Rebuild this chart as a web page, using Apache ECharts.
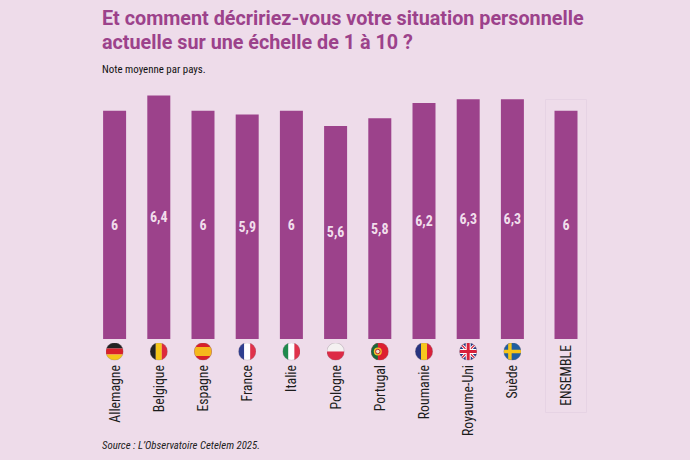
<!DOCTYPE html>
<html>
<head>
<meta charset="utf-8">
<script src="https://cdn.jsdelivr.net/npm/echarts@6/dist/echarts.min.js"></script>
<style>
html, body { margin: 0; padding: 0; background: #eedcea; }
#chart { width: 690px; height: 460px; }
/* Roboto étroit pour tout sauf le titre */
#chart text { font-stretch: 75% !important; }
#chart text[style*="Noto Sans"] { font-stretch: 100% !important; }
</style>
</head>
<body>
<div id="chart"></div>
<script>
const countries = ['Allemagne', 'Belgique', 'Espagne', 'France', 'Italie', 'Pologne', 'Portugal', 'Roumanie', 'Royaume-Uni', 'Suède']
const countryValues = [6, 6.4, 6, 5.9, 6, 5.6, 5.8, 6.2, 6.3, 6.3]
const totalName = ['ENSEMBLE']
const totalValues = [6]

const narrow = 'Roboto, sans-serif'
const wide = 'Roboto, "Noto Sans", sans-serif'
const purple = '#9c428b'

// drapeaux ronds, dessinés sur un carré de 36
function stripesV(a, b, c) {
    return `<rect width="12" height="36" fill="${a}"/><rect x="12" width="12" height="36" fill="${b}"/><rect x="24" width="12" height="36" fill="${c}"/>`
}
function stripesH(a, b, c) {
    return `<rect width="36" height="12" fill="${a}"/><rect y="12" width="36" height="12" fill="${b}"/><rect y="24" width="36" height="12" fill="${c}"/>`
}
const flagArt = {
    'Allemagne': stripesH('#222222', '#d8202a', '#f5c518'),
    'Belgique': stripesV('#222222', '#f5c518', '#dd2a3c'),
    'Espagne': '<rect width="36" height="36" fill="#d8202a"/><rect y="9" width="36" height="18" fill="#f5b81c"/>',
    'France': stripesV('#2f3f8f', '#ffffff', '#e0324a'),
    'Italie': stripesV('#1f8a4c', '#ffffff', '#e0324a'),
    'Pologne': '<rect width="36" height="18" fill="#f4f1f1"/><rect y="18" width="36" height="18" fill="#dd2a46"/>',
    'Portugal': '<rect width="36" height="36" fill="#dd2030"/><rect width="14" height="36" fill="#17693a"/><circle cx="14" cy="18" r="8" fill="#f3c02a"/><circle cx="14" cy="18" r="4.5" fill="#e8e2d0" stroke="#c0242c" stroke-width="2"/>',
    'Roumanie': stripesV('#27347f', '#f7c81e', '#d8203a'),
    'Royaume-Uni': '<rect width="36" height="36" fill="#28367f"/><path d="M0 0L36 36M36 0L0 36" stroke="#ffffff" stroke-width="6"/><path d="M0 0L36 36M36 0L0 36" stroke="#d8203a" stroke-width="2.4"/><path d="M18 0V36M0 18H36" stroke="#ffffff" stroke-width="10"/><path d="M18 0V36M0 18H36" stroke="#d8203a" stroke-width="6"/>',
    'Suède': '<rect width="36" height="36" fill="#1f5ea0"/><path d="M13 0V36M0 18H36" stroke="#f5c518" stroke-width="7"/>'
}

function flagImage(name) {
    let svg = `<svg xmlns="http://www.w3.org/2000/svg" width="72" height="72" viewBox="0 0 36 36"><defs><clipPath id="c"><circle cx="18" cy="18" r="17.5"/></clipPath></defs><g clip-path="url(#c)">${flagArt[name]}</g><circle cx="18" cy="18" r="17.5" fill="none" stroke="#8a7a88" stroke-width="0.7"/></svg>`
    return 'image://data:image/svg+xml;charset=utf-8,' + encodeURIComponent(svg)
}

function commaLabel(p) {
    return String(p.value).replace('.', ',')
}

function barSeries(axisIndex, values) {
    return {
        type: 'bar',
        xAxisIndex: axisIndex,
        yAxisIndex: axisIndex,
        data: values,
        barWidth: 23,
        itemStyle: { color: purple },
        label: {
            show: true,
            position: 'inside',
            formatter: commaLabel,
            color: '#f1deec',
            fontFamily: narrow,
            fontWeight: 'bold',
            fontSize: 14
        },
        silent: true
    }
}

function categoryAxis(gridIndex, names, margin) {
    return {
        type: 'category',
        gridIndex: gridIndex,
        data: names,
        axisLine: { show: false },
        axisTick: { show: false },
        axisLabel: {
            rotate: 90,
            interval: 0,
            margin: margin,
            padding: [0, 0, 2, 0],
            color: '#1c1c1c',
            fontFamily: narrow,
            fontSize: 13.8
        }
    }
}

function valueAxis(gridIndex) {
    return { type: 'value', gridIndex: gridIndex, min: 0, max: 6.4, show: false }
}

let myChart = echarts.init(document.getElementById('chart'), null, { renderer: 'svg' })

myChart.setOption({
    animation: false,
    backgroundColor: '#eedcea',
    title: [
        {
            text: 'Et comment décririez-vous votre situation personnelle\nactuelle sur une échelle de 1 à 10 ?',
            left: 102,
            top: 6,
            padding: 0,
            textStyle: { color: purple, fontFamily: wide, fontWeight: 'bold', fontSize: 19.75, lineHeight: 24 }
        },
        {
            text: 'Note moyenne par pays.',
            left: 102,
            top: 64,
            padding: 0,
            textStyle: { color: '#111111', fontFamily: narrow, fontWeight: 'normal', fontSize: 10.9 }
        },
        {
            text: 'Source : L’Observatoire Cetelem 2025.',
            left: 102,
            top: 440,
            padding: 0,
            textStyle: { color: '#222222', fontFamily: narrow, fontStyle: 'italic', fontWeight: 'normal', fontSize: 10.8 }
        }
    ],
    graphic: [{
        type: 'rect',
        z: 0,
        shape: { x: 545.5, y: 99.5, width: 41, height: 313 },
        style: { fill: 'none', stroke: '#e6d3e4', lineWidth: 1 }
    }],
    grid: [
        { left: 92.5, width: 442, top: 95.5, height: 243.5 },
        { left: 544, width: 44, top: 95.5, height: 243.5 }
    ],
    xAxis: [categoryAxis(0, countries, 26), categoryAxis(1, totalName, 6)],
    yAxis: [valueAxis(0), valueAxis(1)],
    series: [
        barSeries(0, countryValues),
        barSeries(1, totalValues),
        {
            // les drapeaux, posés sous le pied de chaque barre
            type: 'scatter',
            xAxisIndex: 0,
            yAxisIndex: 0,
            clip: false,
            silent: true,
            symbolSize: 18,
            symbolOffset: [0, 12.5],
            itemStyle: { opacity: 1 },
            data: countries.map(name => ({
                value: [name, 0],
                symbol: flagImage(name)
            }))
        }
    ]
})
</script>
</body>
</html>
